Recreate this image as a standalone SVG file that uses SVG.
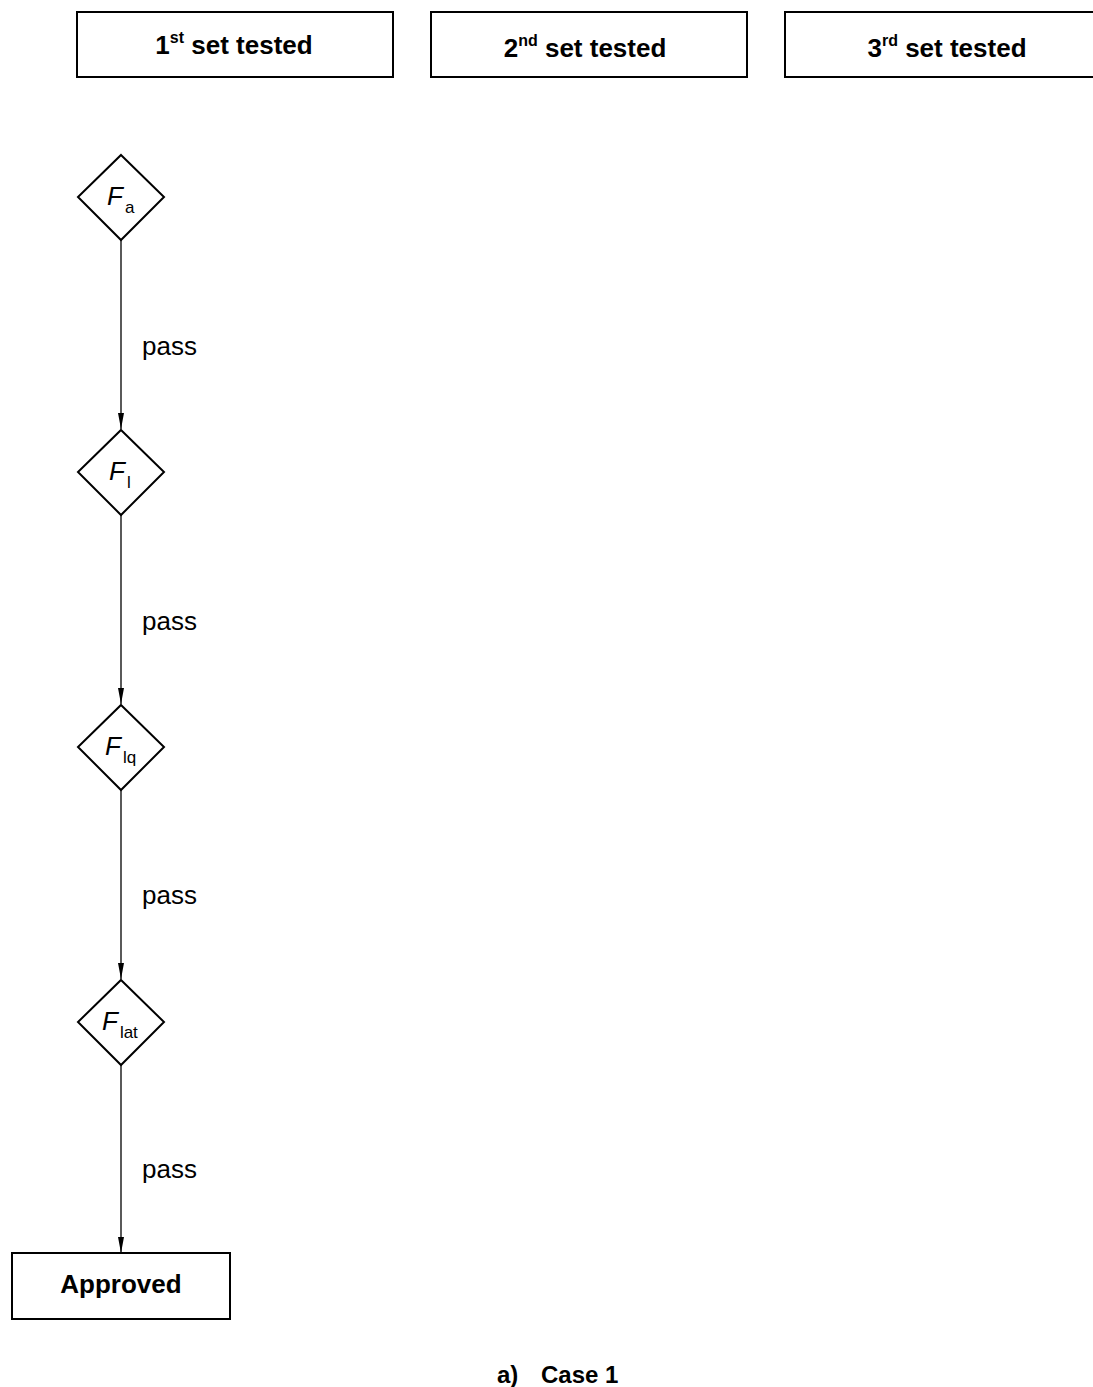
<svg xmlns="http://www.w3.org/2000/svg" width="1093" height="1387" viewBox="0 0 1093 1387">
<style>
.box{fill:#fff;stroke:#000;stroke-width:2}
.dia{fill:#fff;stroke:#000;stroke-width:2}
.hd{font-family:"Liberation Sans",Arial,sans-serif;font-weight:bold;font-size:26px;text-anchor:middle}
.sup{font-size:16px}
.lbl{font-family:"Liberation Sans",Arial,sans-serif;font-size:26px}
.F{font-family:"Liberation Sans",Arial,sans-serif;font-size:26px;font-style:italic}
.sub{font-family:"Liberation Sans",Arial,sans-serif;font-size:17px;font-style:normal}
.conn{stroke:#000;stroke-width:1.3;fill:none}
</style>
<defs>
<marker id="arrow" viewBox="0 0 16 6" refX="16" refY="3" markerWidth="16" markerHeight="6" markerUnits="userSpaceOnUse" orient="auto">
<path d="M0,0 L16,3 L0,6 z" fill="#000"/>
</marker>
</defs>
<rect width="1093" height="1387" fill="#fff"/>
<g id="hdr1"><rect class="box" x="77" y="12" width="316" height="65"/><text class="hd" x="234" y="54">1<tspan class="sup" dy="-11">st</tspan><tspan dy="11"> set tested</tspan></text></g>
<g id="hdr2"><rect class="box" x="431" y="12" width="316" height="65"/><text class="hd" x="585" y="57">2<tspan class="sup" dy="-11">nd</tspan><tspan dy="11"> set tested</tspan></text></g>
<g id="hdr3"><rect class="box" x="785" y="12" width="320" height="65"/><text class="hd" x="947" y="57">3<tspan class="sup" dy="-11">rd</tspan><tspan dy="11"> set tested</tspan></text></g>
<g id="connectors">
<line class="conn" x1="121" y1="240" x2="121" y2="429" marker-end="url(#arrow)"/>
<line class="conn" x1="121" y1="515" x2="121" y2="704" marker-end="url(#arrow)"/>
<line class="conn" x1="121" y1="790" x2="121" y2="979" marker-end="url(#arrow)"/>
<line class="conn" x1="121" y1="1065" x2="121" y2="1253" marker-end="url(#arrow)"/>
<text class="lbl" x="142" y="355">pass</text>
<text class="lbl" x="142" y="630">pass</text>
<text class="lbl" x="142" y="904">pass</text>
<text class="lbl" x="142" y="1178">pass</text>
</g>
<g id="Fa"><polygon class="dia" points="121,155 164,197 121,240 78,197"/><text class="F" x="107" y="205">F<tspan class="sub" dx="2" dy="8">a</tspan></text></g>
<g id="Fl"><polygon class="dia" points="121,430 164,472 121,515 78,472"/><text class="F" x="109" y="480">F<tspan class="sub" dx="2" dy="8">l</tspan></text></g>
<g id="Flq"><polygon class="dia" points="121,705 164,747 121,790 78,747"/><text class="F" x="105" y="755">F<tspan class="sub" dx="2" dy="8">lq</tspan></text></g>
<g id="Flat"><polygon class="dia" points="121,980 164,1022 121,1065 78,1022"/><text class="F" x="102" y="1030">F<tspan class="sub" dx="2" dy="8">lat</tspan></text></g>
<g id="approved"><rect class="box" x="12" y="1253" width="218" height="66"/><text class="hd" x="121" y="1293">Approved</text></g>
<text class="hd" x="497" y="1383" style="text-anchor:start;font-size:24px">a)</text>
<text class="hd" x="541" y="1383" style="text-anchor:start;font-size:24px">Case 1</text>
</svg>
